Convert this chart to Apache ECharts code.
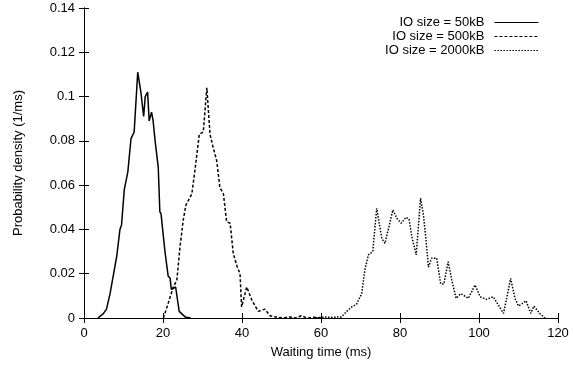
<!DOCTYPE html>
<html lang="en">
<head>
    <meta charset="UTF-8">
    <title>Waiting time density</title>
    <script src="https://cdn.jsdelivr.net/npm/echarts@6/dist/echarts.min.js"></script>
    <style>
        body, html {
            margin: 0;
            padding: 0;
            background: #fff;
        }
        #chart {
            width: 573px;
            height: 368px;
        }
    </style>
</head>
<body>
<div id="chart"></div>
<script>
    // values (ms, 1/ms)
    let x50 = [3.5, 4.9, 5.7, 6.6, 7.4, 8.3, 9.1, 9.5, 10.2, 11.1, 11.9, 12.7, 13.6, 14.4, 15.1, 15.5, 16.1, 16.5, 17.1, 17.5, 18.0, 18.8, 19.2, 19.5, 20.5, 21.3, 21.8, 22.1, 23.2, 24.1, 25.6, 27];
    let y50 = [0, 0.002, 0.004, 0.011, 0.019, 0.028, 0.040, 0.042, 0.058, 0.066, 0.081, 0.084, 0.111, 0.102, 0.091, 0.100, 0.102, 0.089, 0.093, 0.089, 0.080, 0.068, 0.048, 0.047, 0.030, 0.019, 0.018, 0.013, 0.014, 0.003, 0.0005, 0];

    let x500 = [20.1, 21.3, 22.6, 23.5, 24.3, 25.1, 25.8, 27.3, 28.1, 29.2, 30.2, 31.1, 31.9, 32.7, 33.6, 34.4, 35.3, 36.1, 37.0, 37.8, 38.8, 39.5, 39.9, 41.2, 42.5, 44.1, 45.8, 47.1, 49, 50.5, 52, 53.5, 55, 56.5, 58, 60];
    let y500 = [0, 0.0066, 0.014, 0.017, 0.032, 0.044, 0.051, 0.056, 0.067, 0.083, 0.084, 0.104, 0.083, 0.077, 0.071, 0.059, 0.056, 0.0435, 0.0428, 0.029, 0.023, 0.020, 0.005, 0.014, 0.008, 0.003, 0.004, 0.001, 0.0003, 0, 0.0005, 0, 0.001, 0, 0.0003, 0];

    let x2000 = [58, 61, 63, 65.2, 66.5, 67.8, 69.0, 70.3, 71.1, 72.0, 73.1, 74.1, 75.4, 76.2, 78.2, 79.2, 80.3, 81.5, 82.3, 83.0, 84.1, 85.2, 85.9, 86.6, 87.2, 88.0, 89.3, 90.3, 91.1, 92.2, 93.1, 94.2, 95.4, 97.3, 99.0, 100.3, 101.9, 103.6, 104.9, 106.2, 107.0, 108.0, 109.1, 110.0, 110.8, 111.9, 113.1, 113.9, 115.4, 116.7];
    let y2000 = [0, 0.0004, 0.0003, 0.0005, 0.003, 0.005, 0.0063, 0.011, 0.0217, 0.0285, 0.030, 0.0495, 0.036, 0.0337, 0.0488, 0.045, 0.0428, 0.0455, 0.0446, 0.0367, 0.0285, 0.054, 0.047, 0.035, 0.023, 0.027, 0.027, 0.0154, 0.0154, 0.0254, 0.0172, 0.0089, 0.011, 0.0089, 0.0149, 0.0096, 0.0084, 0.0096, 0.0059, 0.0021, 0.0089, 0.0179, 0.0089, 0.0054, 0.0063, 0.0078, 0.0021, 0.0054, 0.002, 0];

    let seriesNames = ["IO size = 50kB", "IO size = 500kB", "IO size = 2000kB"];
    let dashes = ["solid", [3, 2], [1.5, 1.5]];

    function pairs(xs, ys) {
        let out = [];
        for (let i = 0; i < xs.length; i++) {
            out.push([xs[i], ys[i]]);
        }
        return out;
    }

    let allData = [pairs(x50, y50), pairs(x500, y500), pairs(x2000, y2000)];

    let font = "Liberation Sans, Arial, sans-serif";
    let tick = {show: true, inside: true, length: 5, lineStyle: {color: "#000"}};

    let options = {
        animation: false,
        textStyle: {fontFamily: font},
        grid: {left: 84, right: 15, top: 8, bottom: 50, containLabel: false},
        legend: {
            right: 29,
            top: 11,
            orient: "vertical",
            align: "right",
            itemWidth: 44,
            itemHeight: 8,
            itemGap: 1,
            // hide the marker dot, keep the line sample
            itemStyle: {opacity: 0},
            lineStyle: {width: 1.2},
            textStyle: {fontSize: 13, color: "#000", fontFamily: font, padding: [0, 5, 0, 0]},
            data: seriesNames
        },
        xAxis: [{
            type: "value",
            min: 0, max: 120, interval: 20,
            name: "Waiting time (ms)",
            nameLocation: "middle",
            nameGap: 28,
            nameTextStyle: {fontSize: 13, color: "#000"},
            axisLine: {show: true, lineStyle: {color: "#000", width: 1}},
            axisTick: tick,
            axisLabel: {fontSize: 13, color: "#000", margin: 9},
            splitLine: {show: false}
        }, {
            type: "value",
            position: "top",
            min: 0, max: 120, interval: 20,
            axisLine: {show: true, lineStyle: {color: "#000", width: 1}},
            axisTick: tick,
            axisLabel: {show: false},
            splitLine: {show: false}
        }],
        yAxis: [{
            type: "value",
            min: 0, max: 0.14, interval: 0.02,
            name: "Probability density (1/ms)",
            nameLocation: "middle",
            nameGap: 59,
            nameTextStyle: {fontSize: 13, color: "#000"},
            axisLine: {show: true, lineStyle: {color: "#000", width: 1}},
            axisTick: tick,
            axisLabel: {fontSize: 13, color: "#000", margin: 9},
            splitLine: {show: false}
        }, {
            type: "value",
            position: "right",
            min: 0, max: 0.14, interval: 0.02,
            axisLine: {show: true, lineStyle: {color: "#000", width: 1}},
            axisTick: tick,
            axisLabel: {show: false},
            splitLine: {show: false}
        }],
        series: []
    };

    for (let i = 0; i < seriesNames.length; i++) {
        options.series.push({
            name: seriesNames[i],
            type: "line",
            xAxisIndex: 0,
            yAxisIndex: 0,
            data: allData[i],
            symbol: "none",
            showSymbol: false,
            color: "#000",
            lineStyle: {color: "#000", width: 1.5, type: dashes[i]}
        });
    }

    let chart = echarts.init(document.getElementById("chart"));
    chart.setOption(options);
</script>
</body>
</html>
